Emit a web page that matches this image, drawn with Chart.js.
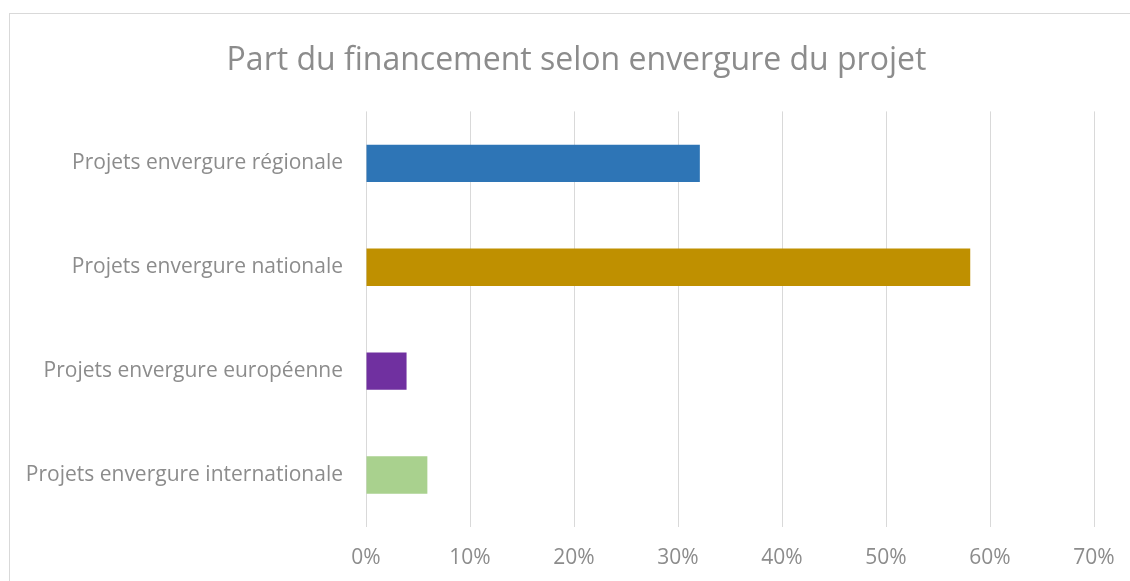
<!DOCTYPE html>
<html>
<head>
<meta charset="utf-8">
<script src="https://cdn.jsdelivr.net/npm/chart.js@4/dist/chart.umd.min.js"></script>
<style>
    html, body { margin: 0; padding: 0; background: #fff; overflow: hidden; }
    #wrap { position: relative; width: 1130px; height: 581px; overflow: hidden; }
    #frame { position: absolute; left: 9px; top: 13px; width: 1200px; height: 700px;
             border-left: 1px solid #d9d9d9; border-top: 1px solid #d9d9d9; }
    canvas { position: absolute; left: 9px; top: 0; }
</style>
</head>
<body>
<div id="wrap">
    <div id="frame"></div>
    <canvas id="chart" width="1135" height="581"></canvas>
</div>
<script>
const categories = [
    'Projets envergure régionale',
    'Projets envergure nationale',
    'Projets envergure européenne',
    'Projets envergure internationale'
];
const shares = [32.1, 58.1, 3.9, 5.9];
const barColors = ['#2E75B6', '#BF9000', '#7030A0', '#A9D18E'];
const xTicks = [0, 10, 20, 30, 40, 50, 60, 70];

const fontFamily = '"Open Sans", "Noto Sans", sans-serif';
const textGrey = '#8c8c8c';

// centre the title on the whole canvas, not on the padded box
const wideTitle = {
    id: 'wideTitle',
    afterLayout(chart) {
        if (chart.titleBlock) {
            chart.titleBlock.left = 0;
            chart.titleBlock.right = chart.width;
        }
    }
};

const ctx = document.getElementById('chart').getContext('2d');
new Chart(ctx, {
    type: 'bar',
    data: {
        labels: categories,
        datasets: [{
            label: 'Part du financement',
            data: shares,
            backgroundColor: barColors,
            borderWidth: 0,
            barPercentage: 0.36,
            categoryPercentage: 1
        }]
    },
    plugins: [wideTitle],
    options: {
        indexAxis: 'y',
        responsive: false,
        animation: false,
        layout: { padding: { left: 0, right: 50, top: 0, bottom: 11 } },
        plugins: {
            legend: { display: false },
            tooltip: { enabled: false },
            title: {
                display: true,
                text: 'Part du financement selon envergure du projet',
                color: textGrey,
                font: { family: fontFamily, size: 32, weight: 'normal' },
                padding: { top: 42, bottom: 31 }
            }
        },
        scales: {
            x: {
                min: 0,
                max: 70,
                afterBuildTicks: (scale) => {
                    scale.ticks = xTicks.map(v => ({ value: v }));
                },
                afterFit: (scale) => { scale.height = 43; },
                grid: { color: '#d9d9d9', lineWidth: 1, drawTicks: false },
                border: { display: false },
                ticks: {
                    color: textGrey,
                    padding: 18,
                    font: { family: fontFamily, size: 21 },
                    callback: (v) => v + '%'
                }
            },
            y: {
                afterFit: (scale) => { scale.width = 357; },
                grid: { display: false, drawTicks: false },
                border: { display: false },
                ticks: {
                    color: textGrey,
                    padding: 23,
                    font: { family: fontFamily, size: 21 }
                }
            }
        }
    }
});
</script>
</body>
</html>
